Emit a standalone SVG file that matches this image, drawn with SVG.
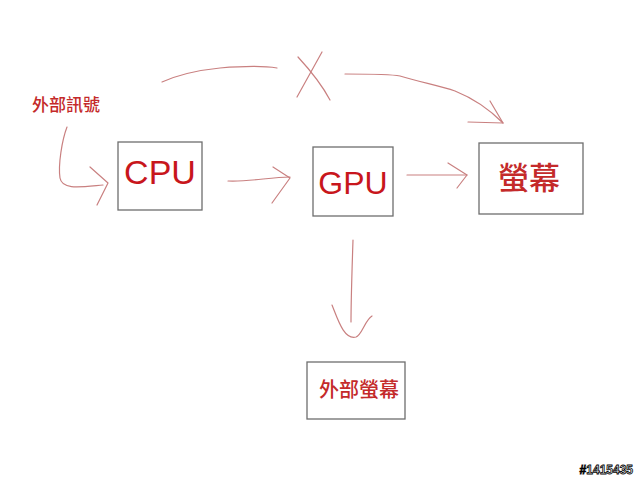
<svg xmlns="http://www.w3.org/2000/svg" width="640" height="480" viewBox="0 0 640 480">
<style>
.box{fill:#fff;stroke:#6e6e6e;stroke-width:1.3}
.lbl{fill:#c8161c;font-family:"Liberation Sans","Noto Sans CJK TC",sans-serif;text-anchor:middle}
.cjk{fill:#c42a2a;font-family:"Noto Sans CJK TC","Liberation Sans",sans-serif;text-anchor:middle;font-weight:500}
.ln{fill:none;stroke:#c98080;stroke-width:1.2;stroke-linecap:round;stroke-linejoin:round}
.wm{font-family:"Liberation Sans",sans-serif;font-size:12px;font-weight:bold;text-anchor:end;fill:#fff;stroke:#000;stroke-width:0.8}
</style>
<rect width="640" height="480" fill="#fff"/>
<g id="signal"><text class="cjk" x="66" y="111" font-size="17">外部訊號</text></g>
<g id="cpu"><rect class="box" x="118" y="142" width="84" height="68"/><text class="lbl" x="160" y="184" font-size="34">CPU</text></g>
<g id="gpu"><rect class="box" x="313" y="147" width="80" height="69"/><text class="lbl" x="353" y="194" font-size="32">GPU</text></g>
<g id="screen"><rect class="box" x="479" y="143" width="104" height="71"/><text class="cjk" x="529" y="189" font-size="31">螢幕</text></g>
<g id="external"><rect class="box" x="307" y="362" width="98" height="57"/><text class="cjk" x="359" y="397" font-size="20">外部螢幕</text></g>
<g id="connectors">
<path class="ln" d="M67 127 C62 140 58 165 60 178 C62 190 80 187 103 185"/>
<path class="ln" d="M90 167 L108 183 L97 205"/>
<path class="ln" d="M228 181 C250 182 270 177 290 177"/>
<path class="ln" d="M273 167 L290 178 L272 203"/>
<path class="ln" d="M407 175 L467 175"/>
<path class="ln" d="M448 163 L467 175 L457 188"/>
<path class="ln" d="M162 82 C180 74 200 70 220 68 C245 66 265 66 277 68"/>
<path class="ln" d="M297 97 L322 52"/>
<path class="ln" d="M298 57 C310 70 322 85 330 100"/>
<path class="ln" d="M345 74 C370 74 390 74 400 76 C420 82 440 86 455 91 C475 99 490 110 503 123"/>
<path class="ln" d="M490 101 L503 123 L468 122"/>
<path class="ln" d="M353 240 C352 270 351 300 351 322"/>
<path class="ln" d="M332 305 C338 320 344 340 356 337 C362 335 365 320 372 316"/>
</g>
<text class="wm" x="633" y="474">#1415435</text>
</svg>
